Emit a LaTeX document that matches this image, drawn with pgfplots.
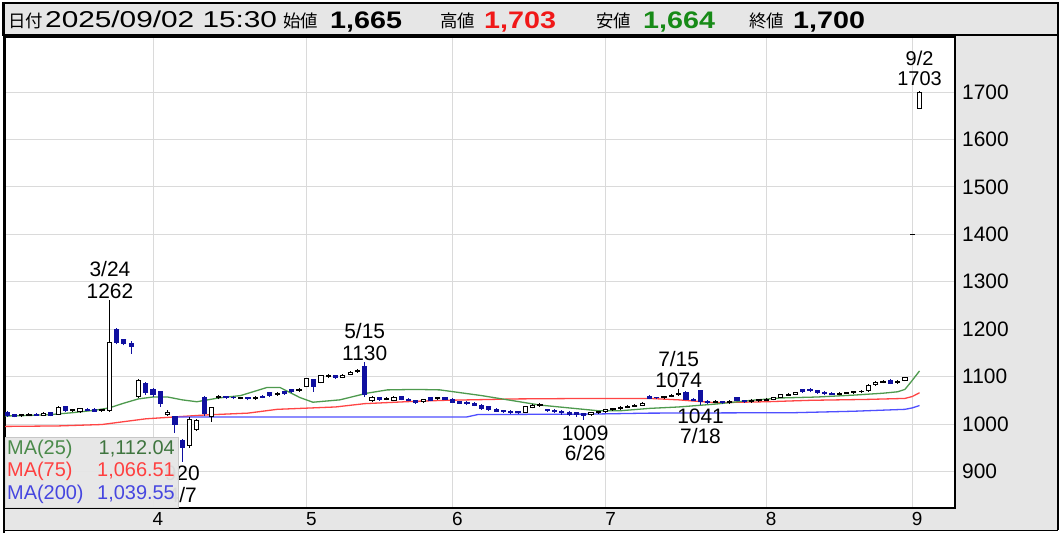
\documentclass[border=0pt]{standalone}
\usepackage{fontspec}
\usepackage{graphicx}
\usepackage{pgfplots}
\usepackage{pgfplotstable}
\pgfplotsset{compat=1.18}
\setmainfont{Liberation Sans}
\newfontfamily\cjk{Noto Sans CJK JP}
\newfontfamily\hdr[FakeStretch=1.3]{Liberation Sans}
\newfontfamily\hdrb[FakeStretch=1.2]{Liberation Sans Bold}
\newcommand\ann{\fontsize{21}{21}\selectfont}
\definecolor{candleblue}{HTML}{1010A0}
\definecolor{ma25}{HTML}{4E9A4E}
\definecolor{ma75}{HTML}{FF4545}
\definecolor{ma200}{HTML}{4F4FFF}
\definecolor{gridc}{HTML}{DADADA}
\definecolor{panelgrey}{HTML}{E6E6E6}
\definecolor{hred}{HTML}{F01818}
\definecolor{hgreen}{HTML}{178A17}
\definecolor{lg25}{HTML}{4A8A4A}
\definecolor{lg75}{HTML}{FF4040}
\definecolor{lg200}{HTML}{4646E0}

\pgfplotstableread{
i O H L C
2 1017 1022 1015 1020
3 1019 1023 1017 1021
5 1019 1025 1017 1022
7 1020 1038 1019 1034
9 1028 1032 1026 1030
10 1026 1034 1024 1032
13 1028 1032 1026 1030
14 1028 1262 1026 1171
18 1058 1095 1055 1092
22 1020 1030 1018 1024
25 955 1015 950 1010
26 988 1010 985 1008
28 1015 1036 1005 1034
29 1055 1062 1052 1058
32 1054 1058 1052 1056
34 1053 1060 1051 1057
37 1063 1067 1060 1065
40 1070 1075 1068 1073
41 1080 1097 1078 1095
43 1088 1104 1086 1102
44 1100 1105 1097 1102
46 1099 1106 1097 1103
47 1105 1112 1103 1109
48 1110 1116 1108 1112
50 1050 1060 1046 1056
52 1052 1057 1050 1054
53 1050 1059 1048 1057
57 1047 1053 1045 1051
59 1053 1057 1051 1055
71 1025 1038 1023 1036
72 1035 1043 1033 1040
73 1039 1044 1036 1041
80 1020 1026 1018 1024
81 1024 1028 1022 1026
82 1026 1032 1024 1030
83 1030 1034 1028 1032
84 1032 1037 1030 1035
85 1035 1040 1033 1038
86 1038 1042 1036 1040
87 1040 1046 1038 1044
90 1055 1060 1053 1058
91 1058 1063 1056 1060
92 1062 1074 1060 1065
97 1046 1050 1044 1048
99 1045 1050 1043 1048
102 1047 1052 1045 1050
103 1049 1053 1047 1051
104 1050 1054 1048 1052
105 1052 1057 1050 1055
106 1056 1064 1054 1062
107 1061 1066 1059 1063
108 1063 1068 1061 1066
114 1063 1067 1061 1065
115 1065 1068 1063 1066
116 1066 1070 1064 1068
117 1068 1071 1066 1069
118 1070 1084 1068 1082
119 1083 1090 1081 1088
120 1088 1093 1086 1090
122 1087 1092 1085 1090
123 1092 1100 1090 1098
124 1400 1400 1400 1400
125 1665 1703 1664 1700
}\updata

\pgfplotstableread{
i O H L C
0 1025 1027 1015 1018
1 1020 1022 1014 1016
4 1021 1024 1017 1019
6 1024 1026 1016 1018
8 1036 1038 1026 1028
11 1031 1033 1027 1029
12 1031 1033 1026 1027
15 1200 1203 1168 1172
16 1178 1180 1166 1170
17 1170 1176 1148 1164
19 1085 1088 1062 1066
20 1072 1075 1058 1062
21 1068 1070 1036 1044
23 1015 1017 981 998
24 965 968 920 950
27 1055 1060 1018 1022
30 1058 1060 1053 1056
31 1057 1059 1052 1055
33 1056 1058 1050 1053
35 1058 1062 1054 1056
36 1066 1068 1058 1060
38 1068 1070 1062 1064
39 1072 1074 1066 1068
42 1094 1096 1068 1080
45 1102 1104 1096 1099
49 1122 1130 1058 1062
51 1056 1058 1049 1052
54 1058 1060 1050 1052
55 1052 1054 1048 1050
56 1049 1051 1043 1046
58 1055 1057 1048 1050
60 1055 1057 1050 1052
61 1052 1054 1044 1046
62 1047 1049 1042 1044
63 1046 1048 1040 1043
64 1044 1046 1038 1040
65 1040 1042 1030 1032
66 1036 1038 1028 1030
67 1031 1033 1025 1027
68 1028 1030 1023 1026
69 1027 1029 1022 1025
70 1026 1028 1021 1024
74 1030 1032 1025 1028
75 1028 1031 1024 1027
76 1026 1029 1020 1024
77 1025 1027 1018 1020
78 1024 1026 1015 1021
79 1022 1024 1009 1019
88 1058 1061 1052 1054
89 1056 1058 1052 1055
93 1067 1070 1050 1052
94 1052 1055 1048 1050
95 1070 1072 1041 1048
96 1048 1050 1043 1046
98 1047 1049 1043 1045
100 1056 1058 1048 1050
101 1049 1051 1045 1047
109 1072 1074 1066 1068
110 1073 1075 1067 1070
111 1070 1072 1064 1066
112 1067 1069 1062 1064
113 1065 1067 1061 1063
121 1092 1094 1084 1086
}\dndata

\begin{document}
\begin{tikzpicture}
\path[use as bounding box] (0,0) rectangle (1062bp,533bp);
% grey panels: header, right scale panel, bottom date bar
\fill[panelgrey] (3bp,498bp) rectangle (1058bp,530bp);
\fill[panelgrey] (955bp,3bp) rectangle (1058bp,498bp);
\fill[panelgrey] (3bp,3bp) rectangle (1058bp,25bp);

\begin{axis}[
  at={(5bp,25bp)}, anchor=south west,
  scale only axis, width=950bp, height=471bp,
  xmin=-0.274, xmax=129.86, ymin=823, ymax=1816,
  axis background/.style={fill=white},
  axis line style={black, line width=1.5bp},
  xtick={20,41,61,82,104,124}, xticklabels={4,5,6,7,8,9},
  ytick={900,1000,1100,1200,1300,1400,1500,1600,1700},
  yticklabel pos=right,
  major tick length=0pt,
  xmajorgrids, ymajorgrids,
  grid style={draw=gridc, line width=1bp},
  /pgf/number format/assume math mode=true,
  /pgf/number format/1000 sep={},
  xticklabel style={font=\fontsize{19}{19}\selectfont, anchor=center, inner sep=0pt, yshift=-11bp, xshift=5bp},
  yticklabel style={font=\ann, anchor=west, inner sep=0pt, xshift=7bp},
]
% moving averages
\addplot[ma75, line width=1.3bp] coordinates {(-0.3,995) (7,996) (13,999) (16,1005) (19,1011) (23,1015) (27,1019) (33,1023) (37,1031) (45,1036) (49,1043) (56,1048) (60,1050) (70,1053) (80,1054) (88,1054) (92,1051) (97,1045) (104,1047) (110,1050) (118,1052) (123,1054) (124,1058) (125,1066)};
\addplot[ma200, line width=1.3bp] coordinates {(23,1015) (63,1015) (64.5,1020) (80,1021) (88,1023) (108,1024) (116,1027) (123,1031) (124,1034) (125,1039)};
\addplot[ma25, line width=1.3bp] coordinates {(-0.3,1017) (3,1018) (6,1020) (9,1024) (12,1029) (14,1034) (16,1044) (18,1053) (20,1057) (22,1057) (24,1051) (26,1047) (29,1055) (32,1060) (35.6,1077) (37.4,1077) (40.1,1056) (41.9,1046) (45.6,1051) (49.3,1065) (52.1,1072) (56,1073) (59.3,1072) (65,1060) (69,1050) (73,1040) (77,1034) (81,1028) (84,1028) (88,1033) (92,1036) (97,1042) (102,1050) (106,1055) (111,1057) (116,1061) (120,1065) (122,1068) (123,1073) (124,1092) (125,1112)};

% down candles (blue)
\addplot[forget plot, draw=none, error bars/.cd, y dir=plus, y explicit, error mark=none,
  error bar style={draw=candleblue, line width=1bp}]
  table[x=i, y=L, y error plus expr=\thisrow{H}-\thisrow{L}] {\dndata};
\addplot[forget plot, draw=none, error bars/.cd, y dir=plus, y explicit, error mark=none,
  error bar style={draw=candleblue, line width=5.2bp}]
  table[x=i, y=C, y error plus expr=\thisrow{O}-\thisrow{C}] {\dndata};
\addplot[forget plot, only marks, mark=-, mark size=2.6bp, mark options={draw=candleblue, line width=1bp}]
  table[x=i, y=O] {\dndata};
\addplot[forget plot, only marks, mark=-, mark size=2.6bp, mark options={draw=candleblue, line width=1bp}]
  table[x=i, y=C] {\dndata};

% up candles (white)
\addplot[forget plot, draw=none, error bars/.cd, y dir=plus, y explicit, error mark=none,
  error bar style={draw=black, line width=1bp}]
  table[x=i, y=L, y error plus expr=\thisrow{H}-\thisrow{L}] {\updata};
\addplot[forget plot, draw=none, error bars/.cd, y dir=plus, y explicit, error mark=none,
  error bar style={draw=black, line width=5.2bp}]
  table[x=i, y=O, y error plus expr=\thisrow{C}-\thisrow{O}] {\updata};
\addplot[forget plot, draw=none, error bars/.cd, y dir=plus, y explicit, error mark=none,
  error bar style={draw=white, line width=3.2bp}]
  table[x=i, y=O, y error plus expr=\thisrow{C}-\thisrow{O}] {\updata};
\addplot[forget plot, only marks, mark=-, mark size=2.6bp, mark options={draw=black, line width=1bp}]
  table[x=i, y=O] {\updata};
\addplot[forget plot, only marks, mark=-, mark size=2.6bp, mark options={draw=black, line width=1bp}]
  table[x=i, y=C] {\updata};

% annotations
\node[anchor=base, font=\ann, inner sep=0pt] at (axis cs:14.1,1312) {3/24};
\node[anchor=base, font=\ann, inner sep=0pt] at (axis cs:14.1,1265.7) {1262};
\node[anchor=base, font=\ann, inner sep=0pt] at (axis cs:49,1181.3) {5/15};
\node[anchor=base, font=\ann, inner sep=0pt] at (axis cs:49,1134.9) {1130};
\node[anchor=base, font=\ann, inner sep=0pt] at (axis cs:92,1122.3) {7/15};
\node[anchor=base, font=\ann, inner sep=0pt] at (axis cs:92,1078) {1074};
\node[anchor=base, font=\ann, inner sep=0pt] at (axis cs:79.2,966.3) {1009};
\node[anchor=base, font=\ann, inner sep=0pt] at (axis cs:79.2,924.1) {6/26};
\node[anchor=base, font=\ann, inner sep=0pt] at (axis cs:95,1002.1) {1041};
\node[anchor=base, font=\ann, inner sep=0pt] at (axis cs:95,959.9) {7/18};
\node[anchor=base, font=\fontsize{20}{20}\selectfont, inner sep=0pt] at (axis cs:125,1756) {9/2};
\node[anchor=base, font=\fontsize{20}{20}\selectfont, inner sep=0pt] at (axis cs:125,1714.7) {1703};
\node[anchor=base, font=\ann, inner sep=0pt] at (axis cs:24,881.9) {920};
\node[anchor=base, font=\ann, inner sep=0pt] at (axis cs:24,835.5) {4/7};
\end{axis}

\draw[black, line width=1.5bp] (3bp,498bp) rectangle (1058bp,530bp);
\draw[black, line width=1.2bp] (1058bp,3bp) -- (1058bp,498bp);
\draw[black, line width=1.5bp] (4bp,2.5bp) -- (1058bp,2.5bp);
\draw[black, line width=1.5bp] (4bp,0bp) -- (4bp,530bp);

% legend box
\fill[fill=panelgrey, opacity=0.95] (5bp,25bp) rectangle (178bp,96bp);
\draw[black!22, line width=0.8bp] (5bp,96bp) -- (178bp,96bp) -- (178bp,25bp);
\begin{scope}[every node/.style={inner sep=0pt, font=\fontsize{20}{20}\selectfont}]
\node[anchor=base west, text=lg25] at (7bp,78bp) {MA(25)};
\node[anchor=base east, text=lg25!85!black] at (175bp,78bp) {1,112.04};
\node[anchor=base west, text=lg75] at (7bp,56bp) {MA(75)};
\node[anchor=base east, text=lg75] at (175bp,56bp) {1,066.51};
\node[anchor=base west, text=lg200] at (7bp,34bp) {MA(200)};
\node[anchor=base east, text=lg200] at (175bp,34bp) {1,039.55};
\end{scope}

% header text
\begin{scope}[every node/.style={inner sep=0pt, anchor=base west}]
\node at (8bp,505bp) {\cjk\fontsize{17.5}{17.5}\selectfont 日付};
\node at (45bp,505bp) {\hdr\fontsize{23}{23}\selectfont 2025/09/02 15:30};
\node at (283bp,505bp) {\cjk\fontsize{17.5}{17.5}\selectfont 始値};
\node at (330bp,504bp) {\hdrb\fontsize{24}{24}\selectfont 1,665};
\node at (440bp,505bp) {\cjk\fontsize{17.5}{17.5}\selectfont 高値};
\node[text=hred] at (484bp,504bp) {\hdrb\fontsize{24}{24}\selectfont 1,703};
\node at (596bp,505bp) {\cjk\fontsize{17.5}{17.5}\selectfont 安値};
\node[text=hgreen] at (643bp,504bp) {\hdrb\fontsize{24}{24}\selectfont 1,664};
\node at (749bp,505bp) {\cjk\fontsize{17.5}{17.5}\selectfont 終値};
\node at (793bp,504bp) {\hdrb\fontsize{24}{24}\selectfont 1,700};
\end{scope}
\end{tikzpicture}
\end{document}
